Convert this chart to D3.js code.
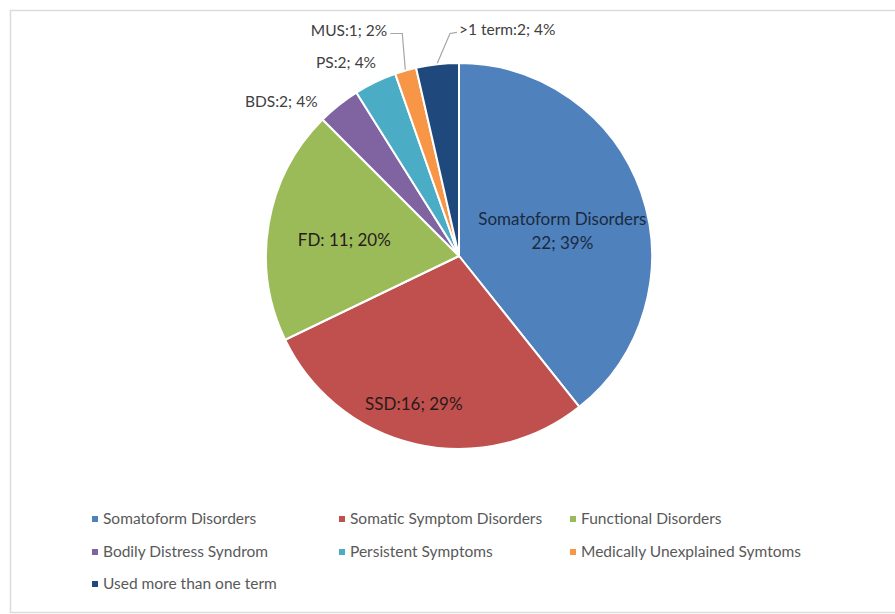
<!DOCTYPE html>
<html><head><meta charset="utf-8">
<script src="https://cdn.jsdelivr.net/npm/d3@7/dist/d3.min.js"></script>
<style>body{margin:0;background:#fff}svg{display:block}</style>
</head><body>
<svg id="c" width="895" height="614"></svg>
<script>
const categories = ["Somatoform Disorders","Somatic Symptom Disorders","Functional Disorders","Bodily Distress Syndrom","Persistent Symptoms","Medically Unexplained Symtoms","Used more than one term"];
const shortLabels = ["Somatoform Disorders","SSD","FD","BDS","PS","MUS",">1 term"];
const values = [22,16,11,2,2,1,2];
const percents = ["39%","29%","20%","4%","4%","2%","4%"];
const colors = ["#4F81BD","#C0504D","#9BBB59","#8064A2","#4BACC6","#F79646","#1F497D"];

const svg = d3.select("#c");
const W = 895, H = 614;
const cx = 459, cy = 256, R = 193;
const font = "Lato, 'Liberation Sans', sans-serif";

// chart border
svg.append("rect").attr("x",10.5).attr("y",10.5).attr("width",W).attr("height",602)
  .attr("fill","#fff").attr("stroke","#dcdcdc").attr("stroke-width",1.5);

const pie = d3.pie().sort(null).value(d=>d)(values);
const arc = d3.arc().innerRadius(0).outerRadius(R);
const g = svg.append("g").attr("transform",`translate(${cx},${cy})`);
g.selectAll("path").data(pie).join("path")
  .attr("d",arc).attr("fill",(d,i)=>colors[i])
  .attr("stroke","#fff").attr("stroke-width",2).attr("stroke-linejoin","round");

// label layout (angle in degrees clockwise from top, radius factor)
const place = [
  {a:74.8, k:0.555, inside:true},
  {a:197, k:0.80, inside:true},
  {a:278, k:0.60, inside:true},
  {a:311, k:1.22},
  {a:329.7, k:1.16},
  {a:334, k:1.30, leader:"right"},
  {a:12, k:1.20, leader:"left"}
];
function polar(aDeg, r){const a=aDeg*Math.PI/180;return [r*Math.sin(a), -r*Math.cos(a)];}

pie.forEach((d,i)=>{
  const p = place[i];
  const [x,y] = polar(p.a, p.k*R);
  if (i===0){
    const t = g.append("text").attr("x",x).attr("y",y).attr("text-anchor","middle")
      .attr("font-family",font).attr("font-size",17).attr("fill","#1b2a40");
    t.append("tspan").attr("x",x).attr("dy","-0.15em").text(shortLabels[i]);
    t.append("tspan").attr("x",x).attr("dy","1.4em").text(values[i]+"; "+percents[i]);
    return;
  }
  const txt = (i===2) ? shortLabels[i]+": "+values[i]+"; "+percents[i]
                      : shortLabels[i]+":"+values[i]+"; "+percents[i];
  const t = g.append("text").attr("x",x).attr("y",y).attr("dy","0.35em").attr("text-anchor","middle")
    .attr("font-family",font).attr("font-size",p.inside?17:15.5)
    .attr("fill",p.inside?"#2a1a1a":"#404040").text(txt);
  if (p.leader){
    const bb = t.node().getBBox();
    const mid = (d.startAngle+d.endAngle)/2*180/Math.PI;
    const [ox,oy] = polar(mid, R+1);
    let pts;
    if (p.leader==="right"){
      const ex = bb.x+bb.width+3, ly = y+3;
      pts = [[ex,ly],[ox-3,ly],[ox,oy]];
    } else {
      const ex = bb.x-2, ly = y+3;
      pts = [[ex,ly],[ex-7,ly+1],[ox,oy]];
    }
    g.append("path").attr("d",d3.line()(pts)).attr("fill","none")
      .attr("stroke","#a6a6a6").attr("stroke-width",1.2);
  }
});

// legend
const colX = [95,342,573], rowY = [519,552,584];
const lg = svg.append("g");
categories.forEach((c,i)=>{
  const x = colX[i%3], y = rowY[Math.floor(i/3)];
  lg.append("rect").attr("x",x-3).attr("y",y-3).attr("width",6).attr("height",6).attr("fill",colors[i]);
  lg.append("text").attr("x",x+8).attr("y",y).attr("dy","0.35em")
    .attr("font-family",font).attr("font-size",15.5).attr("fill","#595959").text(c);
});
</script>
</body></html>
